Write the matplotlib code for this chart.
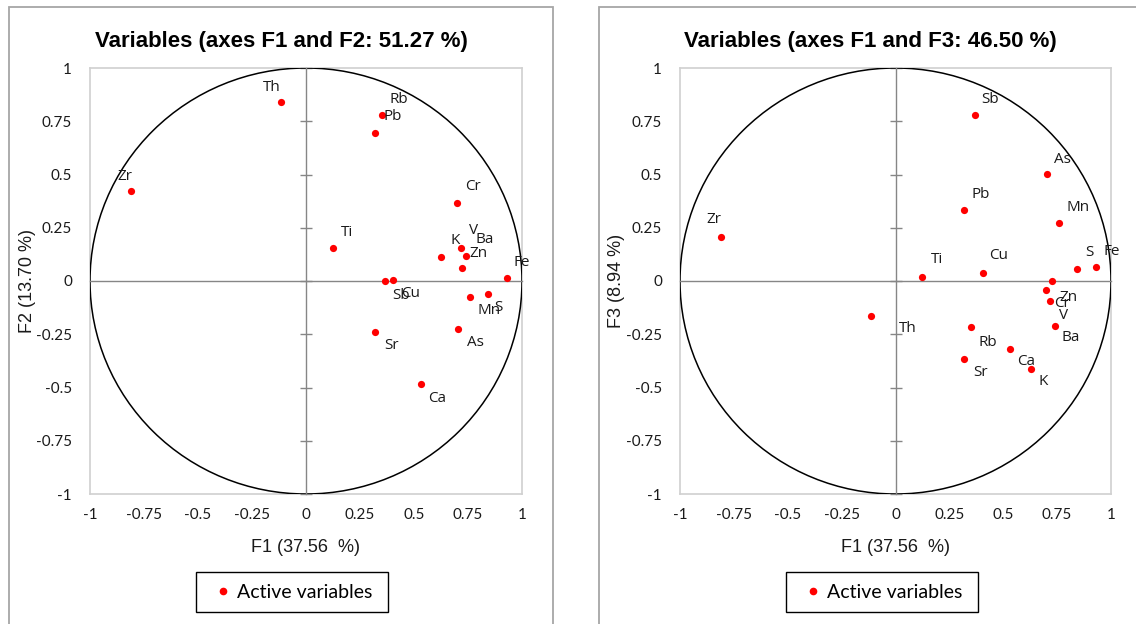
import numpy as np
import matplotlib
matplotlib.use("Agg")
import matplotlib.pyplot as plt
from matplotlib.patches import Circle, Rectangle
from matplotlib.lines import Line2D

# ---------------- data ----------------
elements = ['Th', 'Rb', 'Pb', 'Zr', 'Cr', 'Ti', 'K', 'V', 'Ba', 'Zn',
            'Fe', 'Sb', 'Cu', 'Mn', 'S', 'Sr', 'As', 'Ca']
F1 = [-0.116, 0.350, 0.320, -0.812, 0.697, 0.125, 0.627, 0.719, 0.740, 0.724,
      0.930, 0.367, 0.405, 0.758, 0.843, 0.319, 0.705, 0.531]
F2 = [0.840, 0.779, 0.695, 0.422, 0.367, 0.153, 0.113, 0.153, 0.119, 0.060,
      0.013, -0.001, 0.006, -0.075, -0.062, -0.238, -0.224, -0.484]
F3 = [-0.164, -0.217, 0.333, 0.207, -0.042, 0.019, -0.413, -0.095, -0.211, -0.001,
      0.066, 0.780, 0.039, 0.272, 0.058, -0.365, 0.502, -0.318]
ticks = [-1, -0.75, -0.5, -0.25, 0, 0.25, 0.5, 0.75, 1]
tick_labels = ['-1', '-0.75', '-0.5', '-0.25', '0', '0.25', '0.5', '0.75', '1']

title_12 = 'Variables (axes F1 and F2: 51.27 %)'
title_13 = 'Variables (axes F1 and F3: 46.50 %)'
xlabel = 'F1 (37.56  %)'
ylabel_2 = 'F2 (13.70 %)'
ylabel_3 = 'F3 (8.94 %)'
legend_label = 'Active variables'

# label offsets in pixels (dx right, dy down) -- styling only
off_12 = {'Th': (-9, -15), 'Rb': (17, -16), 'Pb': (18, -16), 'Zr': (-6, -15),
          'Cr': (16, -16), 'Ti': (14, -16), 'K': (14, -16), 'V': (12, -18),
          'Ba': (19, -16), 'Zn': (16, -15), 'Fe': (15, -16), 'Sb': (16, 14),
          'Cu': (17, 14), 'Mn': (19, 14), 'S': (10, 13), 'Sr': (17, 14),
          'As': (17, 14), 'Ca': (16, 14)}
off_13 = {'Th': (37, 13), 'Rb': (17, 15), 'Pb': (16, -16), 'Zr': (-7, -17),
          'Cr': (16, 14), 'Ti': (15, -17), 'K': (13, 13), 'V': (13, 14),
          'Ba': (16, 12), 'Zn': (17, 16), 'Fe': (16, -15), 'Sb': (15, -15),
          'Cu': (16, -17), 'Mn': (19, -16), 'S': (12, -16), 'Sr': (16, 14),
          'As': (15, -15), 'Ca': (16, 13)}

W, H = 1136, 624
fig = plt.figure(figsize=(W / 100, H / 100), dpi=100)
fig.patch.set_facecolor('white')

TICK_FONT = 'Lato'
LBL_FONT = 'Open Sans'
AX_FONT = 'Liberation Sans'
LEG_SIZE = 14


def fx(px):
    return px / W


def fy(py):
    return 1 - py / H


def panel(x0, x1, ax_left, ax_right, xs, ys, offs, title, ylab, ylab_x, leg_x0):
    # outer chart border
    fig.patches.append(Rectangle((fx(x0), fy(H + 10)), fx(x1 - x0), (H + 10 - 7) / H,
                                 transform=fig.transFigure, fill=False,
                                 edgecolor='#a6a6a6', lw=1.3, zorder=0))
    top, bot = 68, 494
    rect = [fx(ax_left), fy(bot), fx(ax_right - ax_left), (bot - top) / H]
    ax = fig.add_axes(rect)
    ax.set_xlim(-1, 1)
    ax.set_ylim(-1, 1)
    for s in ax.spines.values():
        s.set_color('#d0d0d0')
        s.set_linewidth(1.2)
    ax.set_xticks(ticks)
    ax.set_xticklabels(tick_labels)
    ax.set_yticks(ticks)
    ax.set_yticklabels(tick_labels)
    ax.tick_params(length=0, labelsize=11, pad=13)
    ax.tick_params(axis='x', pad=10)
    for t in ax.get_xticklabels() + ax.get_yticklabels():
        t.set_fontfamily(TICK_FONT)
        t.set_color('#1a1a1a')

    # zero axes (ticks only on the vertical one)
    axz = fig.add_axes(rect, facecolor='none')
    axz.set_xlim(-1, 1)
    axz.set_ylim(-1, 1)
    axz.spines['top'].set_visible(False)
    axz.spines['right'].set_visible(False)
    axz.spines['left'].set_position(('data', 0))
    axz.spines['bottom'].set_position(('data', 0))
    for k in ('left', 'bottom'):
        axz.spines[k].set_color('#868686')
        axz.spines[k].set_linewidth(1.0)
    axz.set_xticks([])
    axz.set_yticks(ticks)
    axz.tick_params(axis='y', direction='inout', length=8, width=1.0, color='#868686',
                    labelleft=False)

    axz.add_patch(Circle((0, 0), 1, fill=False, edgecolor='black', lw=1.1, zorder=2))
    axz.scatter(xs, ys, s=27, color='#ff0000', zorder=4, linewidths=0)
    for name, x, y in zip(elements, xs, ys):
        dx, dy = offs[name]
        axz.annotate(name, (x, y), xytext=(dx, -dy), textcoords='offset pixels',
                     ha='center', va='center', fontsize=11, family=LBL_FONT,
                     color='#1a1a1a', zorder=5)

    fig.text(fx((x0 + x1) / 2), fy(41), title, ha='center', va='center',
             fontsize=16, fontweight='bold', family=AX_FONT)
    fig.text(fx((ax_left + ax_right) / 2), fy(547), xlabel, ha='center', va='center',
             fontsize=13, family=AX_FONT, color='#1a1a1a')
    fig.text(fx(ylab_x), fy((top + bot) / 2), ylab, ha='center', va='center',
             rotation=90, fontsize=13, family=AX_FONT, color='#1a1a1a')

    # legend: frame + entry
    fig.patches.append(Rectangle((fx(leg_x0), fy(612)), fx(192), 40 / H,
                                 transform=fig.transFigure, fill=False,
                                 edgecolor='black', lw=1.0, zorder=3))
    em = LEG_SIZE * 100 / 72.0
    hl = 0.6
    fig.legend([Line2D([], [], ls='none', marker='o', ms=5.5, color='#ff0000',
                       markeredgewidth=0)], [legend_label],
               loc='center left',
               bbox_to_anchor=(fx(leg_x0 + 27 - hl * em / 2), fy(592)),
               bbox_transform=fig.transFigure, frameon=False,
               prop={'family': TICK_FONT, 'size': LEG_SIZE},
               handlelength=hl, handletextpad=(41 - 27 - hl * em / 2) / em,
               borderpad=0, borderaxespad=0)
    return ax


panel(9, 553, 90, 522, F1, F2, off_12, title_12, ylabel_2, 27, 196)
panel(599, 1141, 680, 1111, F1, F3, off_13, title_13, ylabel_3, 616, 786)

fig.savefig('out.png', dpi=100)
